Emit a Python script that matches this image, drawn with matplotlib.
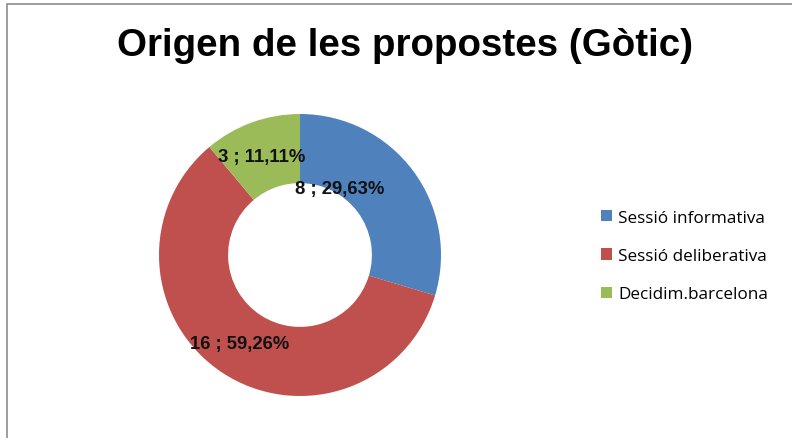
import matplotlib.pyplot as plt
from matplotlib.patches import Rectangle, Patch

# data
categories = ['Sessió informativa', 'Sessió deliberativa', 'Decidim.barcelona']
values = [8, 16, 3]
colors = ['#4F81BD', '#C0504D', '#9BBB59']

# label positions (axes data units, pie radius = 1)
label_xy = [(0.28, 0.47), (-0.43, -0.63), (-0.27, 0.70)]

W, H = 792, 439
fig = plt.figure(figsize=(W / 100, H / 100), dpi=100)
fig.patch.set_facecolor('white')

# chart border (excel style)
fig.add_artist(Rectangle((7 / W, -0.1), 1.2, 1 - 5 / H + 0.1, transform=fig.transFigure,
                         fill=False, edgecolor='#8c8c8c', linewidth=1.2))

# donut
cx, cy, r = 300, 256, 141
ax = fig.add_axes([(cx - r) / W, (H - cy - r) / H, 2 * r / W, 2 * r / H])
wedges, _ = ax.pie(values, colors=colors, startangle=90, counterclock=False,
                   radius=1, wedgeprops=dict(width=0.49, linewidth=0))
ax.set_xlim(-1, 1)
ax.set_ylim(-1, 1)
ax.set_aspect('equal')
ax.axis('off')

total = sum(values)
for v, (x, y) in zip(values, label_xy):
    pct = f'{v / total * 100:.2f}'.replace('.', ',')
    ax.text(x, y, f'{v} ; {pct}%', ha='center', va='center',
            fontsize=13.3, fontweight='bold', family='Liberation Sans', color='#111111')

fig.text(405 / W, 1 - 46 / H, 'Origen de les propostes (Gòtic)', ha='center', va='center',
         fontsize=27.7, fontweight='bold', family='Liberation Sans')

handles = [Patch(facecolor=c, edgecolor='none') for c in colors]
fig.legend(handles, categories, loc='center left', bbox_to_anchor=(586 / W, 1 - 257 / H),
           frameon=False, prop={'family': 'Open Sans', 'size': 12.3},
           handlelength=0.65, handleheight=0.65, handletextpad=0.35, labelspacing=1.3)

fig.savefig('out.png', dpi=100)
